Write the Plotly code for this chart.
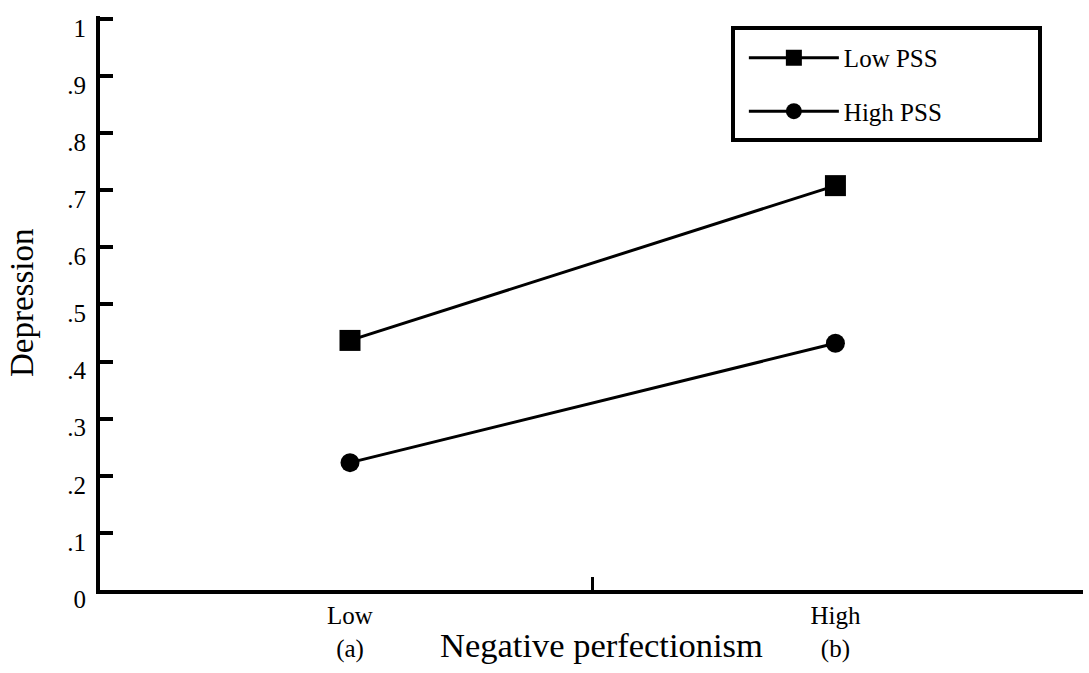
import plotly.graph_objects as go

categories = ["Low<br>(a)", "High<br>(b)"]
x_pos = [0, 1]
low_pss = [0.437, 0.708]
high_pss = [0.223, 0.432]
y_ticks = [0, 0.1, 0.2, 0.3, 0.4, 0.5, 0.6, 0.7, 0.8, 0.9, 1.0]
y_ticktext = ["0", ".1", ".2", ".3", ".4", ".5", ".6", ".7", ".8", ".9", "1"]

FONT = "Liberation Serif"
XR = [-0.515, 1.51]

fig = go.Figure()
fig.add_trace(go.Scatter(
    x=x_pos, y=low_pss, name="Low PSS", mode="lines+markers",
    line=dict(color="black", width=3),
    marker=dict(symbol="square", size=21, color="black"),
    legendgroup="a",
))
fig.add_trace(go.Scatter(
    x=x_pos, y=high_pss, name="High PSS", mode="lines+markers",
    line=dict(color="black", width=3),
    marker=dict(symbol="circle", size=19, color="black"),
    legendgroup="b",
))

fig.update_layout(
    width=1089, height=673,
    margin=dict(l=100, r=6, t=16, b=83),
    paper_bgcolor="white", plot_bgcolor="white",
    font=dict(family=FONT, color="black", size=24),
    showlegend=True,
    legend=dict(
        x=0.655, y=0.967, xanchor="left", yanchor="top",
        bgcolor="rgba(0,0,0,0)", borderwidth=0,
        font=dict(family=FONT, size=25, color="black"),
        itemwidth=90, tracegroupgap=18, traceorder="grouped",
    ),
    xaxis=dict(
        range=XR, tickvals=x_pos, ticktext=categories, ticks="",
        showline=True, linecolor="black", linewidth=4,
        showgrid=False, zeroline=False,
        tickfont=dict(family=FONT, size=25, color="black"), ticklabelstandoff=0,
    ),
    xaxis2=dict(
        range=XR, overlaying="x", side="bottom", tickvals=[0.5, 1.5095],
        ticks="inside", ticklen=13, tickwidth=3, tickcolor="black",
        showticklabels=False, showline=False, showgrid=False, zeroline=False,
    ),
    yaxis=dict(
        range=[0, 1.005], tickvals=y_ticks, ticktext=y_ticktext,
        ticks="inside", ticklen=13, tickwidth=4, tickcolor="black",
        showline=True, linecolor="black", linewidth=4,
        showgrid=False, zeroline=False,
        tickfont=dict(family=FONT, size=25, color="black"),
        ticklabelstandoff=5, ticklabelshift=9,
    ),
    shapes=[dict(
        type="rect", xref="paper", yref="paper",
        x0=(733 - 100) / 983, x1=(1040 - 100) / 983,
        y0=(590 - 140) / 574, y1=(590 - 28) / 574,
        line=dict(color="black", width=4), fillcolor="rgba(0,0,0,0)",
    )],
    annotations=[
        dict(text="Negative perfectionism", xref="paper", yref="paper",
             x=(601 - 100) / 983, y=-(645 - 590) / 574,
             xanchor="center", yanchor="middle", showarrow=False,
             font=dict(family=FONT, size=34.5, color="black")),
        dict(text="Depression", xref="paper", yref="paper",
             x=(22 - 100) / 983, y=(590 - 303) / 574, textangle=-90,
             xanchor="center", yanchor="middle", showarrow=False,
             font=dict(family=FONT, size=33, color="black")),
    ],
)
# empty trace so the overlaying tick axis is drawn
fig.add_trace(go.Scatter(x=[], y=[], xaxis="x2", showlegend=False))

fig.write_html("out.html", config={"displayModeBar": False},
               post_script="document.body.style.margin='0';")
